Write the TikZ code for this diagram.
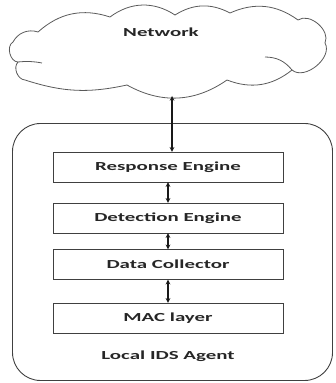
\documentclass[tikz,border=0pt]{standalone}
\usepackage{fontspec}
\setmainfont{Carlito}[FakeStretch=1.7]
\usetikzlibrary{arrows}
\tikzset{>=stealth,font=\fontsize{12.3}{14}\selectfont\bfseries}
\tikzset{layer/.style={draw=black!75,text=black!85,minimum width=230pt,minimum height=30pt,inner sep=0pt}}
\tikzset{link/.style={<->,line width=1.1pt,black!90}}
\tikzset{puff/.style={draw=black!65,line width=0.8pt}}

\begin{document}
\begin{tikzpicture}[x=1pt,y=1pt]
\useasboundingbox (0,0) rectangle (335,383);
% cloud
\draw[puff] (38,351) to[bend left=30] (110,366) to[bend left=35] (175,368)
  to[bend left=30] (230,370) to[bend left=30] (298,363) to[bend left=75] (325,340)
  to[bend left=80] (292,313) to[bend left=30] (227,303) to[bend left=32] (127,298)
  to[bend left=15] (25,303) to[bend left=65] (18,321) to[bend left=75] (13,341)
  to[bend left=40] cycle;
\draw[puff] (18,321) to[bend left=8] (42,320);
\draw[puff] (265,326) to[bend left=25] (292,313);
\node[text=black!85] (NT) at (161,351) {Network};
\coordinate (ND) at (172,287);
% agent
\node[draw=black!75,line width=0.9pt,rounded corners=28pt,minimum width=320pt,minimum height=257pt] (L) at (172.5,131) {};
\node[text=black!85] (LT) at (168,27) {Local IDS Agent};
\node[layer] (R) at (168,216) {Response Engine};
\node[layer] (D) at (168,165) {Detection Engine};
\node[layer] (C) at (168,118.5) {Data Collector};
\node[layer] (M) at (168,65) {MAC layer};
\path[link] (ND) edge (R.north -| ND);
\path[link] (R) edge (D);
\path[link] (D) edge (C);
\path[link] (C) edge (M);
\end{tikzpicture}
\end{document}
